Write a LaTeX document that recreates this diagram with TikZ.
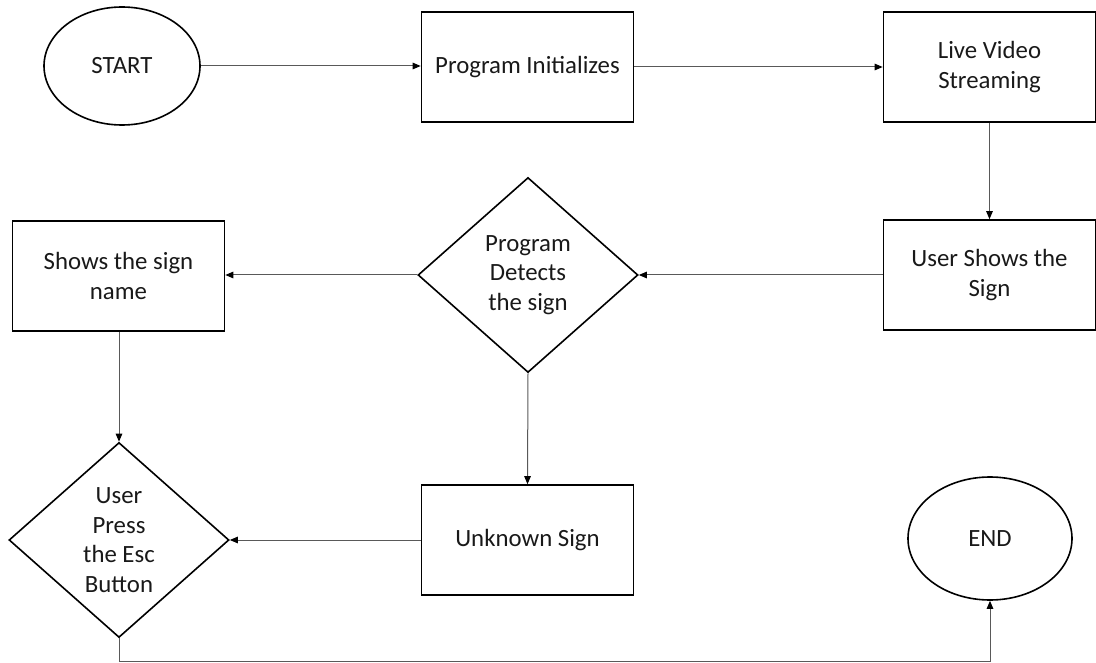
\documentclass[tikz,border=0pt]{standalone}
\usepackage{fontspec}
\setmainfont{Carlito}
\usetikzlibrary{shapes.geometric,arrows.meta}

\tikzset{
  base/.style={draw=black, line width=1.6pt, align=center, inner sep=0pt,
               font=\fontsize{24.8}{29.5}\selectfont, text=black!90},
  procbox/.style={base, rectangle, minimum width=212pt, minimum height=110pt},
  decision/.style={base, diamond, minimum width=220pt, minimum height=195pt},
  terminal/.style={base, ellipse},
  conn/.style={draw=black!65, line width=1pt,
               -{Triangle[length=8pt,width=6.5pt,color=black]}},
}

\begin{document}
\begin{tikzpicture}[x=1pt,y=-1pt]
  \path[use as bounding box] (0,0) rectangle (1096,663);

  % top row
  \node[terminal, minimum width=156pt, minimum height=118pt] (start) at (122,66) {START};
  \node[procbox] (init) at (527.5,67) {Program Initializes};
  \node[procbox] (live) at (989.5,67) {Live Video\\Streaming};

  % middle row
  \node[procbox] (usershows) at (989.5,275) {User Shows the\\Sign};
  \node[decision] (detect) at (528,275) {Program\\Detects\\the sign};
  \node[procbox] (showname) at (118.5,276) {Shows the sign\\name};

  % bottom row
  \node[decision] (esc) at (119,540) {User\\Press\\the Esc\\Button};
  \node[procbox] (unknown) at (527.5,540) {Unknown Sign};
  \node[terminal, minimum width=164pt, minimum height=123pt] (end) at (990,538.5) {END};

  \coordinate (rail) at (0,661);

  % connectors
  \draw[conn] (start.east) -- (start.east -| init.west);
  \draw[conn] (init.east) -- (live.west);
  \draw[conn] (live.south) -- (usershows.north);
  \draw[conn] (usershows.west) -- (detect.east);
  \draw[conn] (detect.west) -- (detect.west -| showname.east);
  \draw[conn] (showname.south -| esc.north) -- (esc.north);
  \draw[conn] (detect.south) -- (unknown.north);
  \draw[conn] (unknown.west) -- (esc.east);
  \draw[conn] (esc.south) -- (esc.south |- rail) -| (end.south);
\end{tikzpicture}
\end{document}
